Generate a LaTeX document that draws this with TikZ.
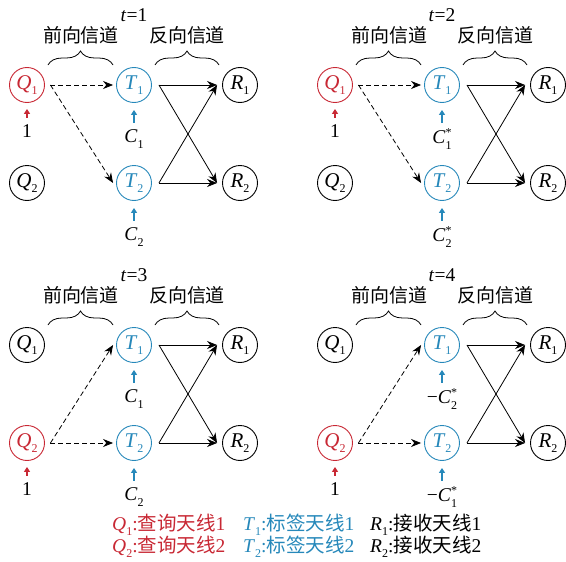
\documentclass[tikz,border=0pt]{standalone}
\usepackage{fontspec}
\setmainfont{Liberation Serif}
\newfontfamily\cjk{Noto Sans CJK SC}
\usetikzlibrary{arrows.meta,decorations.pathreplacing,calc}
\definecolor{qred}{RGB}{200,40,52}
\definecolor{tblue}{RGB}{38,136,186}
\newcommand\Sb[2]{\textit{#1}{\fontsize{12}{12}\selectfont\raisebox{-5.5pt}{#2}}}
\newcommand\Cst[1]{\textit{C}{\fontsize{12}{11}\selectfont\rlap{\raisebox{6.5pt}{*}}\raisebox{-6pt}{#1}}}
\tikzset{
 every node/.style={font=\fontsize{19.5}{22}\selectfont},
 circ/.style={circle,draw,line width=0.9pt,minimum size=35pt,inner sep=0pt,font=\fontsize{21}{22}\selectfont},
 cjkt/.style={font=\fontsize{19}{22}\selectfont\cjk},
 dasharr/.style={dash pattern=on 5pt off 3pt, line width=0.8pt, -{Stealth[length=10pt,width=8pt]}},
 solarr/.style={line width=0.8pt, -{Stealth[length=10pt,width=8pt]}},
 brc/.style={decorate,decoration={brace,amplitude=14pt},line width=0.8pt},
 redarr/.style={qred,line width=2pt,-{Triangle[length=5pt,width=6pt]}},
 bluarr/.style={tblue,line width=2pt,-{Triangle[length=5pt,width=6pt]}},
 leg/.style={anchor=west,inner sep=0pt},
}
% #1 suffix, #2 shift, #3 t, #4 colour Q1, #5 colour Q2, #6 active Q, #7 label under T1, #8 label under T2
\newcommand\drawpanel[8]{%
\begin{scope}[shift={(#2)}]
 \node (t#1) at (134,15) {\textit{t}=#3};
 \node[cjkt] (fw#1) at (81,35) {前向信道};
 \node[cjkt] (bw#1) at (187,35) {反向信道};
 \draw[brc] (48,65) -- (113,65);
 \draw[brc] (155,65) -- (219,65);
 \node[circ,draw=#4,text=#4] (Q1#1) at (27,85) {\Sb{Q}{1}};
 \node[circ,draw=#5,text=#5] (Q2#1) at (27,183) {\Sb{Q}{2}};
 \node[circ,draw=tblue,text=tblue] (T1#1) at (134,85) {\Sb{T}{1}};
 \node[circ,draw=tblue,text=tblue] (T2#1) at (134,183) {\Sb{T}{2}};
 \node[circ] (R1#1) at (240,85) {\Sb{R}{1}};
 \node[circ] (R2#1) at (240,183) {\Sb{R}{2}};
 \coordinate (s#1) at ([xshift=5.5pt]#6#1.east);
 \draw[dasharr] (s#1) -- ([xshift=-3pt]T1#1.west);
 \draw[dasharr] (s#1) -- ([xshift=-3pt]T2#1.west);
 \coordinate (a#1) at ([xshift=7pt]T1#1.east);
 \coordinate (b#1) at ([xshift=7pt]T2#1.east);
 \coordinate (c#1) at ([xshift=-5pt]R1#1.west);
 \coordinate (d#1) at ([xshift=-5pt]R2#1.west);
 \draw[solarr] (a#1) -- (c#1);
 \draw[solarr] (a#1) -- (d#1);
 \draw[solarr] (b#1) -- (c#1);
 \draw[solarr] (b#1) -- (d#1);
 \coordinate (ra#1) at ([yshift=-15pt]#6#1.south);
 \coordinate (rb#1) at ([yshift=-6pt]#6#1.south);
 \draw[redarr] (ra#1) -- (rb#1);
 \node (one#1) at ([yshift=-28.5pt]#6#1.south) {1};
 \coordinate (ua#1) at ([yshift=-20pt]T1#1.south);
 \coordinate (ub#1) at ([yshift=-7pt]T1#1.south);
 \draw[bluarr] (ua#1) -- (ub#1);
 \coordinate (va#1) at ([yshift=-20pt]T2#1.south);
 \coordinate (vb#1) at ([yshift=-7pt]T2#1.south);
 \draw[bluarr] (va#1) -- (vb#1);
 \node (ca#1) at ([yshift=-36pt]T1#1.south) {#7};
 \node (cb#1) at ([yshift=-36pt]T2#1.south) {#8};
\end{scope}}
\begin{document}
\begin{tikzpicture}[x=1pt,y=-1pt]
\useasboundingbox (0,0) rectangle (566,562);
\drawpanel{a}{0,0}{1}{qred}{black}{Q1}{\Sb{C}{1}}{\Sb{C}{2}}
\drawpanel{b}{308,0}{2}{qred}{black}{Q1}{\Cst{1}}{\Cst{2}}
\drawpanel{c}{0,260}{3}{black}{qred}{Q2}{\Sb{C}{1}}{\Sb{C}{2}}
\drawpanel{d}{308,260}{4}{black}{qred}{Q2}{−\Cst{2}}{−\Cst{1}}
\node[leg,text=qred] (lq1) at (112,525) {\Sb{Q}{1}:{\cjk 查询天线}1};
\node[leg,text=qred] (lq2) at (112,547) {\Sb{Q}{2}:{\cjk 查询天线}2};
\node[leg,text=tblue] (lt1) at (243,525) {\Sb{T}{1}:{\cjk 标签天线}1};
\node[leg,text=tblue] (lt2) at (243,547) {\Sb{T}{2}:{\cjk 标签天线}2};
\node[leg] (lr1) at (370,525) {\Sb{R}{1}:{\cjk 接收天线}1};
\node[leg] (lr2) at (370,547) {\Sb{R}{2}:{\cjk 接收天线}2};
\end{tikzpicture}
\end{document}
